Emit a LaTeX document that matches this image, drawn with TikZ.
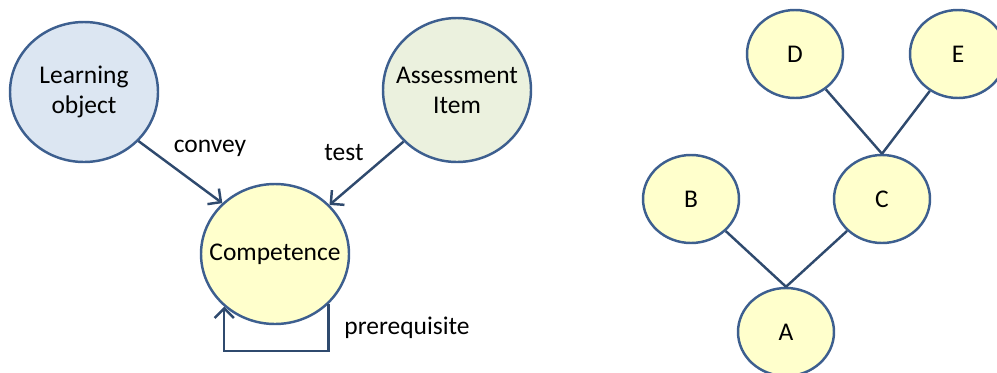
\documentclass[tikz,border=0pt]{standalone}
\usepackage{fontspec}
\setmainfont{Carlito}
\usepackage{tikz}
\usetikzlibrary{shapes}
\usetikzlibrary{arrows.meta}
\definecolor{rim}{HTML}{3D5F8F}
\definecolor{link}{HTML}{2F4A6E}
\definecolor{fill_blue}{HTML}{DCE6F2}
\definecolor{fill_green}{HTML}{EBF1DE}
\definecolor{fill_yellow}{HTML}{FFFFCC}
\tikzset{
  big_node/.style={ellipse, draw, color=rim, line width=1.4pt, text=black, align=center, minimum width=2.96cm, minimum height=2.8cm, inner xsep=-1.2cm, inner ysep=0, font=\fontsize{14.5}{17}\selectfont},
  small_node/.style={ellipse, draw, color=rim, line width=1.4pt, text=black, fill=fill_yellow, minimum width=1.92cm, minimum height=1.76cm, inner sep=0, font=\fontsize{14.5}{17}\selectfont},
  arrow_rel/.style={-{Straight Barb[length=5.5pt,width=11pt]}, line width=1.4pt, color=link},
  tree_line/.style={line width=1.4pt, color=link},
  edge_label/.style={draw=none, text=black, font=\fontsize{14.5}{17}\selectfont}}
\begin{document}
\begin{tikzpicture}

\useasboundingbox (0,0) rectangle (19.94,-7.44);

%%% concept graph
\node[big_node, fill=fill_blue] at (1.68,-1.84) (lo) {Learning\\object};
\node[big_node, fill=fill_green, minimum height=2.88cm] at (9.14,-1.80) (ai) {Assessment\\Item};
\node[big_node, fill=fill_yellow] at (5.50,-5.08) (comp) {Competence};

\draw[arrow_rel] (lo.-42) -- (comp.136);
\draw[arrow_rel] (ai.-136) -- (comp.42);
\draw[arrow_rel] (comp.-43) -- ++(0,-0.94) -| (comp.-134);

\node[edge_label] at (4.20,-2.96) (convey) {convey};
\node[edge_label] at (6.88,-3.06) (test) {test};
\node[edge_label] at (8.14,-6.56) (prereq) {prerequisite};

%%% prerequisite tree
\node[small_node] at (15.90,-1.08) (D) {D};
\node[small_node] at (19.16,-1.08) (E) {E};
\node[small_node] at (13.82,-3.98) (B) {B};
\node[small_node] at (17.64,-3.98) (C) {C};
\node[small_node] at (15.72,-6.64) (A) {A};

\draw[tree_line] (D) -- (C.north);
\draw[tree_line] (E) -- (C.north);
\draw[tree_line] (B) -- (A.north);
\draw[tree_line] (C) -- (A.north);

\end{tikzpicture}
\end{document}
